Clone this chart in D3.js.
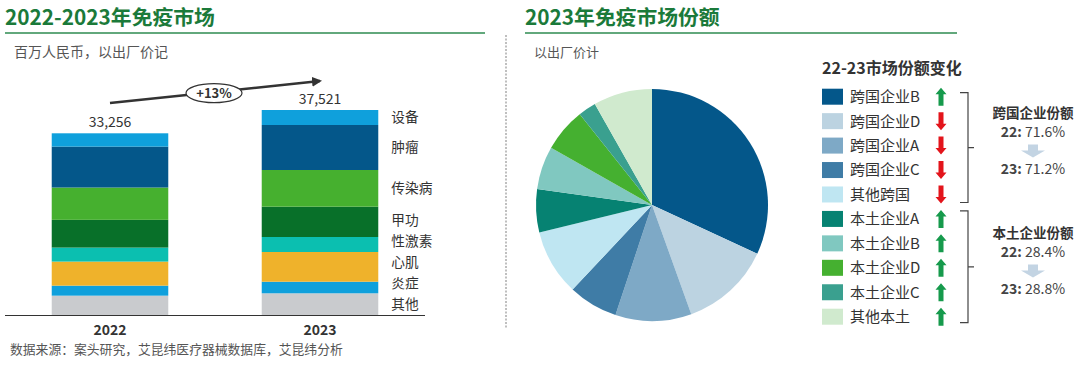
<!DOCTYPE html>
<html><head><meta charset="utf-8">
<script src="https://cdn.jsdelivr.net/npm/d3@7"></script>
<style>
html,body{margin:0;padding:0;background:#fff;}
svg{display:block;font-family:"Noto Sans CJK SC","Noto Sans",sans-serif;}
</style></head>
<body><svg id="c" width="1080" height="366"></svg>
<script>
// ---- Data ----
const years = ["2022", "2023"];
const totals = [33256, 37521];
const segments = ["其他", "炎症", "心肌", "性激素", "甲功", "传染病", "肿瘤", "设备"];
const values2022 = [3540, 1835, 4400, 2565, 5075, 5915, 7490, 2436];
const values2023 = [3972, 2123, 5436, 2745, 5546, 6717, 8236, 2746];
const segColors = ["#c9cbce", "#0fa0dc", "#efb22b", "#0bbfb0", "#087029", "#46b02f", "#04578a", "#0fa0dc"];
const growthLabel = "+13%";

const companies = ["跨国企业B", "跨国企业D", "跨国企业A", "跨国企业C", "其他跨国", "本土企业A", "本土企业B", "本土企业D", "本土企业C", "其他本土"];
const shares2023 = [31.9, 12.6, 10.6, 6.9, 9.2, 6.0, 6.0, 6.1, 2.5, 8.2];
const shareTrend = ["up", "down", "down", "down", "down", "up", "up", "up", "up", "up"];
const pieColors = ["#04578a", "#bcd3e1", "#7ea9c6", "#3f7ca6", "#bfe6f2", "#068272", "#80c8c0", "#45b030", "#3aa08f", "#d0eace"];
const groupNames = ["跨国企业份额", "本土企业份额"];
const groupShare22 = ["71.6%", "28.4%"];
const groupShare23 = ["71.2%", "28.8%"];

const svg = d3.select("#c");
const green = "#1b7a3a";

// ---- Titles ----
function title(x, x2, text, sub, subSize) {
  svg.append("text").attr("x", x).attr("y", 25).attr("font-size", 20.8).attr("font-weight", 700)
    .attr("fill", green).text(text);
  svg.append("line").attr("x1", x).attr("x2", x2).attr("y1", 33).attr("y2", 33)
    .attr("stroke", "#2e8b50").attr("stroke-width", 1.6);
  svg.append("text").attr("x", x + 9).attr("y", 57).attr("font-size", subSize).attr("fill", "#555").text(sub);
}
title(5, 485, "2022-2023年免疫市场", "百万人民币，以出厂价记", 14);
title(525, 957, "2023年免疫市场份额", "以出厂价计", 13);

svg.append("line").attr("x1", 506).attr("x2", 506).attr("y1", 35).attr("y2", 328)
  .attr("stroke", "#aaa").attr("stroke-width", 1.5).attr("stroke-dasharray", "2,1.5");

// ---- Stacked bars ----
const x = d3.scaleBand().domain(years).range([5, 425]).paddingInner(0.445).paddingOuter(0.2225);
const y = d3.scaleLinear().domain([0, 37521]).range([315, 110]);
const stack = d3.stack().keys(segments);
const tableByYear = years.map(yr => {
  const o = { year: yr };
  segments.forEach((s, i) => o[s] = (yr === "2022" ? values2022 : values2023)[i]);
  return o;
});
const series = stack(tableByYear);
svg.append("g").selectAll("g").data(series).join("g")
  .attr("fill", (d, i) => segColors[i])
  .selectAll("rect").data(d => d).join("rect")
  .attr("x", d => x(d.data.year)).attr("width", x.bandwidth())
  .attr("y", d => y(d[1])).attr("height", d => y(d[0]) - y(d[1]));

// baseline
svg.append("line").attr("x1", 5).attr("x2", 425).attr("y1", 315.5).attr("y2", 315.5)
  .attr("stroke", "#333").attr("stroke-width", 1.2);

// year labels
svg.append("g").selectAll("text").data(years).join("text")
  .attr("x", d => x(d) + x.bandwidth() / 2).attr("y", 335).attr("text-anchor", "middle")
  .attr("font-size", 14).attr("font-weight", 700).attr("fill", "#333").text(d => d);

// totals
svg.append("g").selectAll("text").data(years).join("text")
  .attr("x", d => x(d) + x.bandwidth() / 2).attr("y", (d, i) => y(totals[i]) - 6)
  .attr("text-anchor", "middle").attr("font-size", 14).attr("fill", "#333")
  .text((d, i) => d3.format(",")(totals[i]));

// segment labels next to 2023 bar with collision avoidance
const last = series.map(s => s[1]);
const pos = last.map(d => (y(d[0]) + y(d[1])) / 2);
for (let i = 1; i < pos.length; i++) {
  if (pos[i] > pos[i - 1] - 21) pos[i] = pos[i - 1] - 21;
}
svg.append("g").selectAll("text").data(segments).join("text")
  .attr("x", x("2023") + x.bandwidth() + 13).attr("y", (d, i) => pos[i]).attr("dy", "0.35em")
  .attr("font-size", 13.7).attr("fill", "#333").text(d => d);

// growth arrow
const ax1 = x("2022") + x.bandwidth() / 2, ay1 = 103, ax2 = 320, ay2 = 81;
svg.append("defs").append("marker").attr("id", "ah").attr("viewBox", "0 0 10 10")
  .attr("refX", 8).attr("refY", 5).attr("markerWidth", 4).attr("markerHeight", 4).attr("orient", "auto")
  .append("path").attr("d", "M0,0L10,5L0,10z").attr("fill", "#333");
svg.append("line").attr("x1", ax1).attr("y1", ay1).attr("x2", ax2).attr("y2", ay2)
  .attr("stroke", "#333").attr("stroke-width", 2.5).attr("marker-end", "url(#ah)");
const ex = 214, ey = ay1 + (ay2 - ay1) * (ex - ax1) / (ax2 - ax1) + 1;
svg.append("ellipse").attr("cx", ex).attr("cy", ey).attr("rx", 28).attr("ry", 9.5)
  .attr("fill", "#fff").attr("stroke", "#333").attr("stroke-width", 1.2);
svg.append("text").attr("x", ex).attr("y", ey).attr("dy", "0.36em").attr("text-anchor", "middle")
  .attr("font-size", 13).attr("font-weight", 700).attr("fill", "#333").text(growthLabel);

// source
svg.append("text").attr("x", 10).attr("y", 353.5).attr("font-size", 12.8).attr("fill", "#555")
  .text("数据来源：案头研究，艾昆纬医疗器械数据库，艾昆纬分析");

// ---- Pie ----
const pie = d3.pie().sort(null).value(d => d)(shares2023);
const arc = d3.arc().innerRadius(0).outerRadius(116);
svg.append("g").attr("transform", "translate(652,205)").selectAll("path").data(pie).join("path")
  .attr("d", arc).attr("fill", (d, i) => pieColors[i]);

// ---- Legend ----
svg.append("text").attr("x", 822).attr("y", 74).attr("font-size", 16).attr("font-weight", 700)
  .attr("fill", "#333").text("22-23市场份额变化");
const ly = d3.scalePoint().domain(companies).range([96.7, 316.7]);
const lg = svg.append("g").selectAll("g").data(companies).join("g")
  .attr("transform", d => `translate(0,${ly(d)})`);
lg.append("rect").attr("x", 822).attr("y", -8).attr("width", 21).attr("height", 16)
  .attr("fill", (d, i) => pieColors[i]);
lg.append("text").attr("x", 850).attr("y", 0).attr("dy", "0.36em").attr("font-size", 15)
  .attr("fill", "#333").text(d => d);
const upPath = "M0,-9L5.5,-2.5L2.5,-2.5L2.5,9L-2.5,9L-2.5,-2.5L-5.5,-2.5Z";
const downPath = "M0,9L5.5,2.5L2.5,2.5L2.5,-9L-2.5,-9L-2.5,2.5L-5.5,2.5Z";
lg.append("path").attr("transform", "translate(941,0)")
  .attr("d", (d, i) => shareTrend[i] === "up" ? upPath : downPath)
  .attr("fill", (d, i) => shareTrend[i] === "up" ? "#169a4c" : "#e3141b");

// brackets
function bracket(y1, y2) {
  const xm = 968, ym = (y1 + y2) / 2;
  svg.append("path").attr("d", `M960,${y1}H${xm}V${y2}H960M${xm},${ym}H974`)
    .attr("fill", "none").attr("stroke", "#444").attr("stroke-width", 1.2);
}
bracket(ly(companies[0]) - 4, ly(companies[4]) + 8);
bracket(ly(companies[5]) - 8, ly(companies[9]) + 6);

// group shares
const gy = [113, 233];
groupNames.forEach((g, i) => {
  const cx = 1033, base = gy[i];
  svg.append("text").attr("x", cx).attr("y", base).attr("dy", "0.36em").attr("text-anchor", "middle")
    .attr("font-size", 13.5).attr("font-weight", 700).attr("fill", "#333").text(g);
  const t1 = svg.append("text").attr("x", cx).attr("y", base + 19).attr("dy", "0.36em").attr("text-anchor", "middle")
    .attr("font-size", 14).attr("fill", "#444");
  t1.append("tspan").attr("font-weight", 700).text("22: ");
  t1.append("tspan").text(groupShare22[i]);
  svg.append("path").attr("transform", `translate(${cx},${base + 38})`)
    .attr("d", "M-5,-6.5H5V-0.5H12L0,6.5L-12,-0.5H-5Z").attr("fill", "#c3d4e3");
  const t2 = svg.append("text").attr("x", cx).attr("y", base + 56).attr("dy", "0.36em").attr("text-anchor", "middle")
    .attr("font-size", 14).attr("fill", "#444");
  t2.append("tspan").attr("font-weight", 700).text("23: ");
  t2.append("tspan").text(groupShare23[i]);
});
</script></body></html>
